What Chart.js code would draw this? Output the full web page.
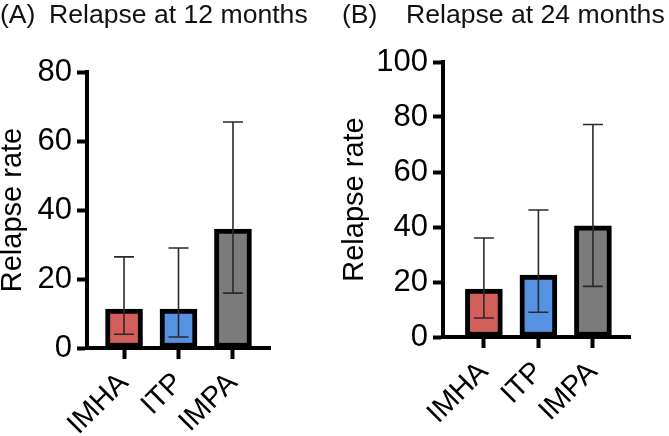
<!DOCTYPE html>
<html>
<head>
<meta charset="utf-8">
<script src="https://cdn.jsdelivr.net/npm/chart.js@4"></script>
<style>
  html, body { margin: 0; padding: 0; background: #fff; }
  body { width: 669px; height: 436px; position: relative; overflow: hidden;
         font-family: 'Liberation Sans', Arial, sans-serif; color: #111; }
  .panel { position: absolute; top: 0; height: 436px; }
  .lbl { position: absolute; top: 1px; font-size: 26.6px; line-height: 1; white-space: nowrap; }
</style>
</head>
<body>
<div class="panel" style="left:0;width:335px;"><canvas id="chartA"></canvas></div>
<div class="panel" style="left:335px;width:334px;"><canvas id="chartB"></canvas></div>
<div class="lbl" style="left:0px;">(A)</div>
<div class="lbl" style="left:49px;">Relapse at 12 months</div>
<div class="lbl" style="left:342px;">(B)</div>
<div class="lbl" style="left:406px;">Relapse at 24 months</div>
<script>
// categories and colours
const groups = ['IMHA', 'ITP', 'IMPA'];
const barColors = ['#D35F5B', '#5691E2', '#7B7B7B'];

// 12 months (panel A)
const rate12 = [11.3, 11.3, 34.5];
const low12 = [4.0, 3.2, 15.9];
const high12 = [26.4, 29.0, 65.5];
const yTicks12 = [0, 20, 40, 60, 80];

// 24 months (panel B)
const rate24 = [17.4, 22.5, 40.4];
const low24 = [6.9, 9.0, 18.4];
const high24 = [36.0, 46.2, 77.3];
const yTicks24 = [0, 20, 40, 60, 80, 100];

const FONT = "'Liberation Sans', Arial, sans-serif";

// draws the whiskers from the low/high arrays on the chart's own scales
const errorBars = {
    id: 'errorBars',
    afterDatasetsDraw(chart, args, opts) {
        const ctx = chart.ctx;
        const yScale = chart.scales.y;
        const meta = chart.getDatasetMeta(0);
        ctx.save();
        ctx.strokeStyle = '#2a2a2a';
        ctx.lineWidth = 1.6;
        meta.data.forEach((bar, i) => {
            const x = bar.x;
            const yLo = yScale.getPixelForValue(opts.low[i]);
            const yHi = yScale.getPixelForValue(opts.high[i]);
            ctx.beginPath();
            ctx.moveTo(x, yLo);
            ctx.lineTo(x, yHi);
            ctx.moveTo(x - 10, yLo);
            ctx.lineTo(x + 10, yLo);
            ctx.moveTo(x - 10, yHi);
            ctx.lineTo(x + 10, yHi);
            ctx.stroke();
        });
        ctx.restore();
    }
};

function makeChart(id, rates, low, high, yTicks, box) {
    const yMax = yTicks[yTicks.length - 1];
    return new Chart(document.getElementById(id), {
        type: 'bar',
        data: {
            datasets: [{
                data: rates.map((v, i) => ({ x: i, y: v })),
                backgroundColor: barColors,
                borderColor: '#000',
                borderWidth: 5,
                borderSkipped: false,
                barThickness: 37
            }]
        },
        options: {
            responsive: true,
            maintainAspectRatio: false,
            animation: false,
            events: [],
            layout: { padding: { left: 0, top: box.top, right: box.right, bottom: 0 } },
            plugins: {
                legend: { display: false },
                tooltip: { enabled: false },
                errorBars: { low: low, high: high }
            },
            scales: {
                x: {
                    type: 'linear',
                    offset: false,
                    bounds: 'data',
                    min: box.xMin,
                    max: box.xMax,
                    afterBuildTicks: s => {
                        s.ticks = groups.map((g, i) => ({ value: i }));
                        s.min = box.xMin;
                        s.max = box.xMax;
                    },
                    afterFit: s => {
                        s.height = box.xHeight;
                        s.paddingLeft = s.paddingRight = s.paddingTop = s.paddingBottom = 0;
                    },
                    ticks: {
                        autoSkip: false,
                        minRotation: 45,
                        maxRotation: 45,
                        padding: 7,
                        color: '#000',
                        font: { family: FONT, size: 29 },
                        callback: v => groups[v]
                    },
                    grid: { offset: false, drawOnChartArea: false, tickLength: 11, tickWidth: 4, tickColor: '#000' },
                    border: { color: '#000', width: 4 }
                },
                y: {
                    min: 0,
                    max: yMax,
                    afterBuildTicks: s => { s.ticks = yTicks.map(v => ({ value: v })); },
                    afterFit: s => {
                        s.width = box.yWidth;
                        s.paddingLeft = s.paddingRight = s.paddingTop = s.paddingBottom = 0;
                    },
                    ticks: {
                        padding: 5,
                        color: '#000',
                        font: { family: FONT, size: 31 }
                    },
                    grid: { drawOnChartArea: false, tickLength: 10, tickWidth: 4, tickColor: '#000' },
                    border: { color: '#000', width: 4 },
                    title: {
                        display: true,
                        text: 'Relapse rate',
                        color: '#000',
                        font: { family: FONT, size: 29 },
                        padding: { top: box.titlePad, bottom: 0 }
                    }
                }
            }
        },
        plugins: [errorBars]
    });
}

makeChart('chartA', rate12, low12, high12, yTicks12,
    { top: 72, right: 65, yWidth: 87, xHeight: 88, xMin: -0.68, xMax: 2.68, titlePad: -4 });
makeChart('chartB', rate24, low24, high24, yTicks24,
    { top: 62, right: 39, yWidth: 108, xHeight: 99, xMin: -0.75, xMax: 2.68, titlePad: 3 });
</script>
</body>
</html>
